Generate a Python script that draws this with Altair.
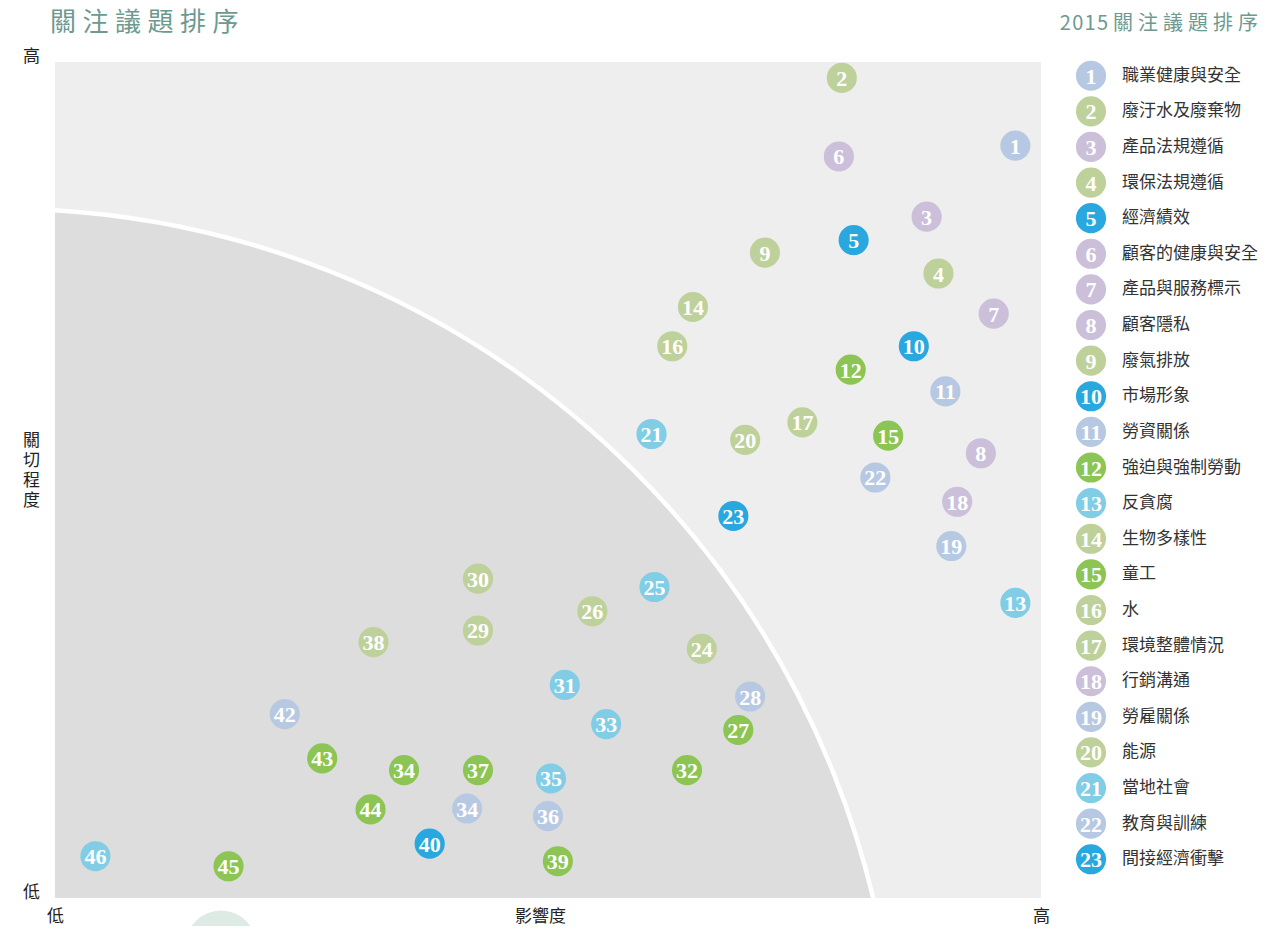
import math
import altair as alt
import pandas as pd

# ---------------- data ----------------
# matrix points: label shown in circle, impact (x, 0-100), concern (y, 0-100), colour group
point_labels = ["1", "2", "3", "4", "5", "6", "7", "8", "9", "10",
                "11", "12", "13", "14", "15", "16", "17", "18", "19", "20",
                "21", "22", "23", "24", "25", "26", "27", "28", "29", "30",
                "31", "32", "33", "34", "34", "35", "36", "37", "38", "39",
                "40", "42", "43", "44", "45", "46"]
impact = [97.4, 79.8, 88.4, 89.6, 81.0, 79.5, 95.2, 93.9, 72.0, 87.1,
          90.3, 80.7, 97.4, 64.7, 84.5, 62.6, 75.8, 91.5, 90.9, 70.0,
          60.5, 83.2, 68.8, 65.6, 60.8, 54.5, 69.3, 70.5, 42.9, 42.9,
          51.7, 64.1, 55.9, 35.4, 41.8, 50.3, 50.0, 42.9, 32.3, 51.0,
          38.0, 23.3, 27.1, 32.0, 17.6, 4.1]
concern = [90.0, 98.1, 81.5, 74.7, 78.7, 88.7, 69.9, 53.2, 77.2, 66.0,
           60.6, 63.2, 35.3, 70.7, 55.3, 66.0, 56.9, 47.4, 42.1, 54.8,
           55.5, 50.3, 45.7, 29.8, 37.2, 34.3, 20.1, 24.1, 32.0, 38.2,
           25.5, 15.3, 20.8, 15.3, 10.7, 14.3, 9.8, 15.3, 30.6, 4.4,
           6.5, 22.0, 16.7, 10.6, 3.8, 5.0]
point_groups = ["greyblue", "sage", "lavender", "sage", "blue", "lavender", "lavender", "lavender", "sage", "blue",
                "greyblue", "green", "cyan", "sage", "green", "sage", "sage", "lavender", "greyblue", "sage",
                "cyan", "greyblue", "blue", "sage", "cyan", "sage", "green", "greyblue", "sage", "sage",
                "cyan", "green", "cyan", "green", "greyblue", "cyan", "greyblue", "green", "sage", "green",
                "blue", "greyblue", "green", "green", "green", "cyan"]

# legend (2015 ranking)
legend_nums = list(range(1, 24))
legend_names = ["職業健康與安全", "廢汙水及廢棄物", "產品法規遵循", "環保法規遵循", "經濟績效",
                "顧客的健康與安全", "產品與服務標示", "顧客隱私", "廢氣排放", "市場形象",
                "勞資關係", "強迫與強制勞動", "反貪腐", "生物多樣性", "童工",
                "水", "環境整體情況", "行銷溝通", "勞雇關係", "能源",
                "當地社會", "教育與訓練", "間接經濟衝擊"]
legend_groups = ["greyblue", "sage", "lavender", "sage", "blue",
                 "lavender", "lavender", "lavender", "sage", "blue",
                 "greyblue", "green", "cyan", "sage", "green",
                 "sage", "sage", "lavender", "greyblue", "sage",
                 "cyan", "greyblue", "blue"]

axis_x_labels = ["低", "影響度", "高"]
axis_y_labels = ["低", "關切程度", "高"]
title_left = "關注議題排序"
title_right = "2015關注議題排序"

# ---------------- styles ----------------
group_names = ["greyblue", "sage", "lavender", "blue", "green", "cyan"]
group_colors = ["#b7c9e2", "#bfd19b", "#cbbfda", "#29a7df", "#8cc553", "#81cde6"]
TEAL = "#6d9990"
CJK = "Noto Sans CJK TC"
SERIF = "Liberation Serif"

PW, PH = 986, 836
DOT = math.pi * 17 ** 2

pts = pd.DataFrame({"label": point_labels, "x": impact, "y": concern, "group": point_groups})
leg = pd.DataFrame({"num": legend_nums, "numtext": [str(n) for n in legend_nums],
                    "name": legend_names, "group": legend_groups})
one = pd.DataFrame({"k": [0]})

color = alt.Color("group:N", scale=alt.Scale(domain=group_names, range=group_colors), legend=None)
xs = alt.Scale(domain=[0, 100], nice=False, zero=False)
ys = alt.Scale(domain=[0, 100], nice=False, zero=False)

xlab_expr = ("datum.value < 1 ? '%s' : (datum.value < 60 ? '%s' : '%s')"
             % tuple(axis_x_labels))
ylab_expr = ("datum.value < 1 ? '%s' : (datum.value < 60 ? split('%s', '') : '%s')"
             % tuple(axis_y_labels))

x_axis = alt.Axis(values=[0, 49.2, 100], labelExpr=xlab_expr, domain=False, ticks=False,
                  grid=False, title=None, labelFlush=False, labelOverlap=False,
                  labelBound=False,
                  labelFont=CJK, labelFontSize=17, labelColor="#222222", labelPadding=10)
y_axis = alt.Axis(values=[0, 54, 100], labelExpr=ylab_expr, domain=False, ticks=False,
                  grid=False, title=None, labelFlush=False, labelOverlap=False,
                  labelFont=CJK, labelFontSize=17, labelColor="#222222", labelPadding=24,
                  labelAlign="center", labelBaseline="middle", labelLineHeight=20,
                  labelOffset=-6)

# background quarter disc (lower-impact zone)
zone = alt.Chart(one).mark_arc(theta=0, theta2=math.pi / 2, radius=897.5,
                               fill="#dcdddc", stroke="white", strokeWidth=4.5,
                               clip=True).encode(x=alt.value(-55), y=alt.value(1044))

dots = alt.Chart(pts).mark_circle(size=DOT, opacity=1).encode(
    x=alt.X("x:Q", scale=xs, axis=x_axis),
    y=alt.Y("y:Q", scale=ys, axis=y_axis),
    color=color,
)
dot_text = alt.Chart(pts).mark_text(font=SERIF, fontWeight="bold", fontSize=22,
                                    color="white", baseline="middle", dy=1).encode(
    x=alt.X("x:Q", scale=xs), y=alt.Y("y:Q", scale=ys), text="label:N")

matrix = alt.layer(zone, dots, dot_text)

# legend
ly = alt.Y("num:Q", scale=alt.Scale(domain=[1, 23], range=[13.7, 797.3]), axis=None)
leg_dots = alt.Chart(leg).mark_circle(size=DOT, opacity=1).encode(
    x=alt.value(1036), y=ly, color=color)
leg_nums = alt.Chart(leg).mark_text(font=SERIF, fontWeight="bold", fontSize=22,
                                    color="white", baseline="middle", dy=1).encode(
    x=alt.value(1036), y=ly, text="numtext:N")
leg_names = alt.Chart(leg).mark_text(font=CJK, fontSize=17, color="#333333",
                                     align="left", baseline="middle").encode(
    x=alt.value(1067), y=ly, text="name:N")

t_left = alt.Chart(one).mark_text(font=CJK, fontSize=26, color=TEAL, align="left",
                                  baseline="middle").encode(
    x=alt.value(-5), y=alt.value(-39), text=alt.value("\u2005".join(title_left)))
rt = "\u200a".join(title_right[:4]) + "\u2005" + "\u2005".join(title_right[4:])
t_right = alt.Chart(one).mark_text(font=CJK, fontSize=20, color=TEAL, align="right",
                                   baseline="middle").encode(
    x=alt.value(1203), y=alt.value(-38), text=alt.value(rt))
blob = alt.Chart(one).mark_circle(size=math.pi * 40 ** 2, opacity=1, color="#deebe5").encode(
    x=alt.value(166), y=alt.value(884))

legend = alt.layer(leg_dots, leg_nums, leg_names, t_left, t_right, blob)

chart = alt.layer(matrix, legend).resolve_scale(y="independent").properties(
    width=PW, height=PH,
    autosize=alt.AutoSizeParams(type="none"),
    padding={"left": 47, "top": 54, "right": 219, "bottom": 28},
).configure_view(strokeWidth=0, fill="#eeeeee")

chart.save("out.html", embed_options={"renderer": "svg", "actions": False})
